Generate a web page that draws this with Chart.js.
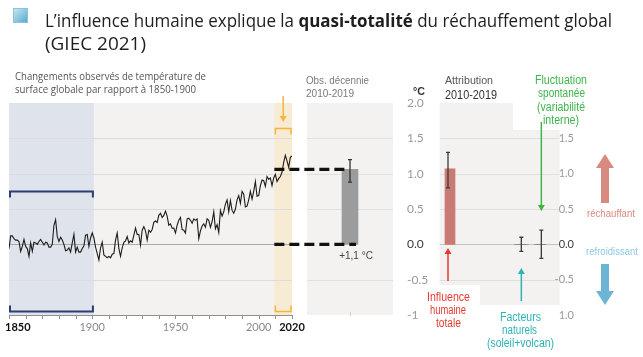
<!DOCTYPE html>
<html><head><meta charset="utf-8">
<script src="https://cdn.jsdelivr.net/npm/chart.js@4.4.1/dist/chart.umd.min.js"></script>
<style>
html,body{margin:0;padding:0;background:#fff}
body{position:relative;width:643px;height:357px;overflow:hidden}
canvas{position:absolute;top:0}
.t{position:absolute;white-space:nowrap}
</style></head><body>
<canvas id="cObs" width="100" height="357" style="left:300px"></canvas>
<canvas id="cAttr" width="243" height="357" style="left:400px"></canvas>
<canvas id="cMain" width="365" height="357" style="left:0px"></canvas>
<div style="position:absolute;left:13px;top:8px;width:13px;height:13px;background:linear-gradient(135deg,#c6e5f2,#58acd0);border:1px solid #8cc3da"></div>
<script>
// ---------- DATA ----------
const firstYear = 1850;
const temps = [
-0.06,0.12,0.12,0.08,0.06,0.06,0.04,-0.10,-0.03,0.07,
-0.03,-0.06,-0.17,0.02,-0.10,0.03,0.02,0.00,0.04,0.07,
0.03,-0.01,0.03,0.02,-0.04,-0.04,0.00,0.27,0.35,0.11,
0.04,0.10,0.06,0.00,-0.09,-0.08,-0.05,-0.11,0.02,0.14,
-0.11,-0.04,-0.11,-0.11,-0.06,-0.02,0.13,0.14,-0.03,0.09,
0.16,0.09,-0.04,-0.13,-0.22,-0.05,0.03,-0.15,-0.17,-0.19,
-0.17,-0.19,-0.14,-0.13,0.06,0.16,-0.06,-0.17,-0.05,0.03,
0.05,0.11,0.02,0.05,0.03,0.13,0.23,0.14,0.14,-0.01,
0.20,0.25,0.19,0.06,0.20,0.17,0.21,0.31,0.33,0.31,
0.41,0.44,0.38,0.41,0.47,0.40,0.27,0.29,0.23,0.23,
0.16,0.27,0.34,0.38,0.21,0.20,0.16,0.36,0.37,0.34,
0.30,0.36,0.34,0.36,0.08,0.19,0.26,0.29,0.24,0.36,
0.34,0.24,0.32,0.46,0.22,0.28,0.17,0.48,0.40,0.46,
0.57,0.63,0.46,0.62,0.48,0.44,0.50,0.63,0.69,0.58,
0.75,0.71,0.53,0.54,0.63,0.75,0.64,0.75,0.89,0.68,
0.69,0.83,0.91,0.90,0.82,0.96,0.92,0.94,0.83,0.94,
0.99,0.89,0.93,0.96,1.02,1.16,1.26,1.18,1.09,1.23,
1.25];
const baselinePeriod = [1850, 1900];
const recentPeriod = [2010, 2020];
const xTickYears = [1850, 1900, 1950, 2000, 2020];
const xTickLabels = ['1850', '1900', '1950', '2000', '2020'];
const xBoldLabels = ['1850', '2020'];

const obsLabels = ['2010-2019'];
const obsValues = [1.06];
const obsLow = [0.88];
const obsHigh = [1.20];
const obsText = '+1,1 °C';

const attribLabels = ['Influence humaine totale', 'Facteurs naturels (soleil+volcan)', 'Fluctuation spontanée (variabilité interne)'];
const attribValues = [1.07, 0.0, 0.0];
const attribLow = [0.80, -0.10, -0.20];
const attribHigh = [1.30, 0.10, 0.20];

const yTickValues = [2, 1.5, 1, 0.5, 0, -0.5, -1];
const yTickLabels = ['2.0', '1.5', '1.0', '0.5', '0.0', '-0.5', '-1'];
const rightTickValues = [1.5, 1, 0.5, 0, -0.5, -1];
const rightTickLabels = ['1.5', '1.0', '0.5', '0.0', '-0.5', '1.0'];

// ---------- helpers ----------
const years = temps.map((_, i) => firstYear + i);
const PANEL = '#f3f2f0';
function hline(ctx, x0, x1, y, color, w) { ctx.strokeStyle = color; ctx.lineWidth = w; ctx.beginPath(); ctx.moveTo(x0, y); ctx.lineTo(x1, y); ctx.stroke(); }
function thinArrow(ctx, x, y0, y1, color) {
  const dir = y1 < y0 ? -1 : 1;
  ctx.strokeStyle = color; ctx.fillStyle = color; ctx.lineWidth = 1.5;
  ctx.beginPath(); ctx.moveTo(x, y0); ctx.lineTo(x, y1 - dir * 5); ctx.stroke();
  ctx.beginPath(); ctx.moveTo(x, y1); ctx.lineTo(x - 3.5, y1 - dir * 6); ctx.lineTo(x + 3.5, y1 - dir * 6); ctx.closePath(); ctx.fill();
}
function bigArrow(ctx, x, tail, tip, color) {
  const dir = tip < tail ? -1 : 1;
  ctx.fillStyle = color;
  const hb = tip - dir * 14;
  ctx.fillRect(x - 4, Math.min(tail, hb), 8, Math.abs(tail - hb));
  ctx.beginPath(); ctx.moveTo(x, tip); ctx.lineTo(x - 9, hb); ctx.lineTo(x + 9, hb); ctx.closePath(); ctx.fill();
}
function errBar(ctx, x, yLo, yHi, color) {
  ctx.strokeStyle = color; ctx.lineWidth = 1.3;
  ctx.beginPath(); ctx.moveTo(x, yLo); ctx.lineTo(x, yHi);
  ctx.moveTo(x - 2, yLo); ctx.lineTo(x + 2, yLo); ctx.moveTo(x - 2, yHi); ctx.lineTo(x + 2, yHi); ctx.stroke();
}
const baseOpts = (pad) => ({
  responsive: false, animation: false, devicePixelRatio: 1, events: [],
  layout: { padding: pad },
  plugins: { legend: { display: false }, tooltip: { enabled: false }, title: { display: false } }
});

// ---------- MAIN LINE CHART ----------
const mainDeco = {
  id: 'mainDeco',
  beforeDatasetsDraw(chart) {
    const { ctx, chartArea: a, scales: { x, y } } = chart;
    ctx.save();
    ctx.fillStyle = PANEL; ctx.fillRect(a.left, a.top, a.right - a.left, a.bottom - a.top);
    const b0 = x.getPixelForValue(baselinePeriod[0]), b1 = x.getPixelForValue(baselinePeriod[1] + 1);
    ctx.fillStyle = '#dfe3ec'; ctx.fillRect(b0, a.top, b1 - b0, a.bottom - a.top);
    const r0 = x.getPixelForValue(recentPeriod[0]) - 1, r1 = x.getPixelForValue(recentPeriod[1]);
    ctx.fillStyle = '#f8ebd3'; ctx.fillRect(r0, a.top, r1 - r0, a.bottom - a.top);
    [1.5, 1, 0.5, -0.5].forEach(v => hline(ctx, a.left, a.right, Math.round(y.getPixelForValue(v)) + 0.5, '#dcdcdc', 1));
    hline(ctx, a.left, a.right, Math.round(y.getPixelForValue(0)) + 0.5, '#a9a9a9', 1);
    ctx.restore();
  },
  afterDatasetsDraw(chart) {
    const { ctx, chartArea: a, scales: { x, y } } = chart;
    ctx.save();
    const b0 = x.getPixelForValue(baselinePeriod[0]), b1 = x.getPixelForValue(baselinePeriod[1] + 1);
    ctx.strokeStyle = '#2c3d73'; ctx.lineWidth = 2;
    let ty = 191.5, by = 311.5;
    ctx.beginPath(); ctx.moveTo(b0 + 1, ty + 6); ctx.lineTo(b0 + 1, ty); ctx.lineTo(b1 - 1, ty); ctx.lineTo(b1 - 1, ty + 6); ctx.stroke();
    ctx.beginPath(); ctx.moveTo(b0 + 1, by - 6); ctx.lineTo(b0 + 1, by); ctx.lineTo(b1 - 1, by); ctx.lineTo(b1 - 1, by - 6); ctx.stroke();
    const r0 = x.getPixelForValue(recentPeriod[0]) - 1, r1 = x.getPixelForValue(recentPeriod[1]);
    ctx.strokeStyle = '#f5b43a'; ctx.lineWidth = 1.5;
    ty = 128.5;
    ctx.beginPath(); ctx.moveTo(r0 + 1, ty + 6); ctx.lineTo(r0 + 1, ty); ctx.lineTo(r1 - 1, ty); ctx.lineTo(r1 - 1, ty + 6); ctx.stroke();
    ctx.beginPath(); ctx.moveTo(r0 + 1, by - 6); ctx.lineTo(r0 + 1, by); ctx.lineTo(r1 - 1, by); ctx.lineTo(r1 - 1, by - 6); ctx.stroke();
    thinArrow(ctx, (r0 + r1) / 2, 96, 122, '#f5b43a');
    ctx.setLineDash([10, 5]);
    hline(ctx, r0, 346, y.getPixelForValue(obsValues[0]), '#111', 3.2);
    hline(ctx, r0, 356, y.getPixelForValue(0), '#111', 3.2);
    ctx.setLineDash([]);
    hline(ctx, a.left, a.right, a.bottom + 0.5, '#8f8f8f', 1);
    ctx.strokeStyle = '#8f8f8f'; ctx.lineWidth = 1;
    for (let yr = 1850; yr <= 2020; yr += 10) {
      const px = Math.round(x.getPixelForValue(yr)) + 0.5;
      ctx.beginPath(); ctx.moveTo(px, a.bottom); ctx.lineTo(px, a.bottom + 4); ctx.stroke();
    }
    ctx.textBaseline = 'middle'; ctx.textAlign = 'center';
    xTickYears.forEach((yr, i) => {
      const lab = xTickLabels[i], bold = xBoldLabels.includes(lab);
      ctx.font = (bold ? 'bold ' : '') + '11px Lato';
      ctx.fillStyle = bold ? '#111' : '#8a8a8a';
      const w = ctx.measureText(lab).width;
      let cx = x.getPixelForValue(yr);
      cx = Math.max(cx, a.left - 4 + w / 2);
      ctx.fillText(lab, cx, a.bottom + 12);
    });
    ctx.restore();
  }
};
new Chart(document.getElementById('cMain'), {
  type: 'line',
  data: { datasets: [{ data: years.map((yr, i) => ({ x: yr, y: temps[i] })), borderColor: '#1c1c1c', borderWidth: 1.1, pointRadius: 0, tension: 0, fill: false }] },
  options: Object.assign(baseOpts({ left: 9, right: 73, top: 103, bottom: 42 }), {
    scales: {
      x: { type: 'linear', min: 1850, max: 2020, display: false },
      y: { type: 'linear', min: -1, max: 2, display: false }
    }
  }),
  plugins: [mainDeco]
});

// ---------- OBS BAR CHART ----------
const obsDeco = {
  id: 'obsDeco',
  beforeDatasetsDraw(chart) {
    const { ctx, chartArea: a, scales: { y } } = chart;
    ctx.save();
    ctx.fillStyle = PANEL; ctx.fillRect(a.left, a.top, a.right - a.left, a.bottom - a.top);
    [1.5, 1, 0.5, -0.5].forEach(v => hline(ctx, a.left, a.right, Math.round(y.getPixelForValue(v)) + 0.5, '#e0e0e0', 1));
    ctx.restore();
  },
  afterDatasetsDraw(chart) {
    const { ctx, chartArea: a, scales: { y } } = chart;
    const meta = chart.getDatasetMeta(0);
    ctx.save();
    meta.data.forEach((el, i) => errBar(ctx, el.x, y.getPixelForValue(obsLow[i]), y.getPixelForValue(obsHigh[i]), '#333'));
    ctx.font = '10px "Liberation Sans"'; ctx.fillStyle = '#444'; ctx.textAlign = 'center'; ctx.textBaseline = 'middle';
    ctx.fillText(obsText, meta.data[0].x + 6, y.getPixelForValue(0) + 12);
    ctx.strokeStyle = '#cfcfcf'; ctx.lineWidth = 1;
    ctx.beginPath(); ctx.moveTo(meta.data[0].x + 0.5, a.bottom - 3); ctx.lineTo(meta.data[0].x + 0.5, a.bottom + 1); ctx.stroke();
    ctx.restore();
  }
};
new Chart(document.getElementById('cObs'), {
  type: 'bar',
  data: { labels: obsLabels, datasets: [{ data: obsValues, backgroundColor: '#9c9c9c', barThickness: 16 }] },
  options: Object.assign(baseOpts({ left: 7, right: 7, top: 103, bottom: 42 }), {
    scales: { x: { display: false }, y: { min: -1, max: 2, display: false } }
  }),
  plugins: [obsDeco]
});

// ---------- ATTRIBUTION BAR CHART ----------
const slotCount = 15, attribSlots = [0, 11, 14];
const slotLabels = Array(slotCount).fill('');
const slotValues = Array(slotCount).fill(null);
const slotColors = Array(slotCount).fill('#8a8a8a');
slotColors[0] = '#c97a72';
attribSlots.forEach((s, i) => { slotLabels[s] = attribLabels[i]; slotValues[s] = attribValues[i]; });
const attrDeco = {
  id: 'attrDeco',
  beforeDatasetsDraw(chart) {
    const { ctx, chartArea: a, scales: { y } } = chart;
    const L = a.left - 5, R = a.right + 15;
    ctx.save();
    ctx.fillStyle = PANEL; ctx.fillRect(L, a.top, R - L, 305 - a.top);
    [1.5, 1, 0.5, -0.5].forEach(v => hline(ctx, L, R, Math.round(y.getPixelForValue(v)) + 0.5, '#e0dede', 1));
    hline(ctx, L, R, Math.round(y.getPixelForValue(0)) + 0.5, '#c4c4c4', 1);
    ctx.fillStyle = '#fff';
    ctx.fillRect(113, 0, 130, 130);
    ctx.fillRect(0, 285, 80, 72);
    ctx.restore();
  },
  afterDatasetsDraw(chart) {
    const { ctx, scales: { y } } = chart;
    const meta = chart.getDatasetMeta(0);
    ctx.save();
    attribSlots.forEach((s, i) => {
      const el = meta.data[s];
      if (attribValues[i] === 0) hline(ctx, el.x - 5, el.x + 5, Math.round(y.getPixelForValue(0)) + 0.5, '#8a8a8a', 1);
      errBar(ctx, el.x, y.getPixelForValue(attribLow[i]), y.getPixelForValue(attribHigh[i]), '#3a3a3a');
    });
    ctx.textBaseline = 'middle';
    // central y axis labels (page x ~406)
    ctx.font = '12px Lato'; ctx.textAlign = 'left';
    yTickValues.forEach((v, i) => {
      ctx.fillStyle = yTickLabels[i] === '0.0' ? '#3a3a3a' : '#9a9a9a';
      ctx.fillText(yTickLabels[i], 7, y.getPixelForValue(v));
    });
    // right axis labels
    ctx.font = '11px Lato'; ctx.textAlign = 'right';
    rightTickValues.forEach((v, i) => {
      ctx.fillStyle = rightTickLabels[i] === '0.0' ? '#3a3a3a' : '#9a9a9a';
      ctx.fillText(rightTickLabels[i], 174, y.getPixelForValue(v));
    });
    const h = meta.data[attribSlots[0]].x, n = meta.data[attribSlots[1]].x, f = meta.data[attribSlots[2]].x;
    thinArrow(ctx, h, 281, 248, '#e8392f');
    thinArrow(ctx, n, 301, 268, '#2bb3b5');
    thinArrow(ctx, f, 122, 211, '#3db54a');
    bigArrow(ctx, 205, 203, 154, '#d98a80');
    bigArrow(ctx, 205, 264, 305, '#6db5d5');
    ctx.restore();
  }
};
new Chart(document.getElementById('cAttr'), {
  type: 'bar',
  data: { labels: slotLabels, datasets: [{ data: slotValues, backgroundColor: slotColors, barThickness: 14 }] },
  options: Object.assign(baseOpts({ left: 44.67, right: 98.33, top: 103, bottom: 42 }), {
    scales: { x: { display: false }, y: { min: -1, max: 2, display: false } }
  }),
  plugins: [attrDeco]
});

// ---------- TEXT ----------
function addText(o) {
  const d = document.createElement('div');
  d.className = 't';
  d.innerHTML = o.html;
  d.style.font = (o.bold ? 'bold ' : '') + o.size + 'px ' + o.font;
  d.style.color = o.color;
  d.style.lineHeight = o.size + 'px';
  document.body.appendChild(d);
  const w = d.getBoundingClientRect().width;
  const s = o.w ? o.w / w : 1;
  const left = o.align === 'c' ? o.x - (w * s) / 2 : o.x;
  d.style.left = left + 'px';
  d.style.top = (o.y - o.size / 2) + 'px';
  d.style.transformOrigin = '0 50%';
  d.style.transform = 'scaleX(' + s + ')';
}
const OS = '"Open Sans"', LS = '"Liberation Sans"';
[
  { html: 'L’influence humaine explique la <b>quasi-totalité</b> du réchauffement global', x: 45, y: 20, size: 18, font: OS, color: '#1e1e1e', w: 567 },
  { html: '(GIEC 2021)', x: 45, y: 43, size: 18, font: OS, color: '#1e1e1e', w: 101 },
  { html: 'Changements observés de température de', x: 15, y: 75, size: 11, font: OS, color: '#555', w: 191 },
  { html: 'surface globale par rapport à 1850-1900', x: 15, y: 88, size: 11, font: OS, color: '#555', w: 181 },
  { html: 'Obs. décennie', x: 306, y: 80, size: 11, font: LS, color: '#7a7a7a', w: 63 },
  { html: '2010-2019', x: 306, y: 93, size: 11, font: LS, color: '#7a7a7a', w: 48 },
  { html: 'Attribution', x: 445, y: 80, size: 11, font: LS, color: '#555', w: 48 },
  { html: '2010-2019', x: 445, y: 94, size: 13, font: LS, color: '#333', w: 52 },
  { html: '°C', x: 413, y: 91, size: 11, font: LS, color: '#333', w: 12, bold: true },
  { html: 'Fluctuation', x: 561, y: 80, size: 12, font: LS, color: '#3db54a', w: 52, align: 'c' },
  { html: 'spontanée', x: 561, y: 93, size: 12, font: LS, color: '#3db54a', w: 47, align: 'c' },
  { html: '(variabilité', x: 561, y: 107, size: 12, font: LS, color: '#3db54a', w: 48, align: 'c' },
  { html: 'interne)', x: 561, y: 120, size: 12, font: LS, color: '#3db54a', w: 36, align: 'c' },
  { html: 'Influence', x: 448, y: 297, size: 12, font: LS, color: '#e8392f', w: 43, align: 'c' },
  { html: 'humaine', x: 448, y: 310, size: 12, font: LS, color: '#e8392f', w: 36, align: 'c' },
  { html: 'totale', x: 448, y: 323, size: 12, font: LS, color: '#e8392f', w: 25, align: 'c' },
  { html: 'Facteurs', x: 520, y: 317, size: 12, font: LS, color: '#2bb3b5', w: 41, align: 'c' },
  { html: 'naturels', x: 519, y: 330, size: 12, font: LS, color: '#2bb3b5', w: 35, align: 'c' },
  { html: '(soleil+volcan)', x: 520, y: 343, size: 12, font: LS, color: '#2bb3b5', w: 67, align: 'c' },
  { html: 'réchauffant', x: 611, y: 213, size: 11, font: LS, color: '#d98a80', w: 48, align: 'c' },
  { html: 'refroidissant', x: 612, y: 251, size: 11, font: LS, color: '#8ec8e6', w: 52, align: 'c' }
].forEach(addText);
</script></body></html>
